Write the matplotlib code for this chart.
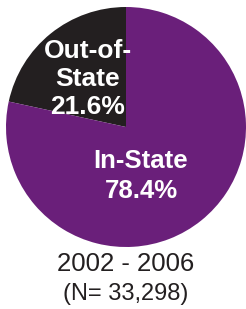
import matplotlib.pyplot as plt

plt.rcParams['font.family'] = ['Liberation Sans', 'DejaVu Sans']

labels = ["Out-of-\nState", "In-State"]
shares = [21.6, 78.4]
colors = ['#231f20', '#6a1f7a']
period = "2002 - 2006"
n_label = "(N= 33,298)"

W, H = 246, 309
fig = plt.figure(figsize=(W / 100, H / 100), dpi=100)
ax = fig.add_axes([0, 0, 1, 1])

ax.pie(shares, colors=colors, startangle=90, counterclock=True,
       center=(126, H - 127), radius=120, frame=True,
       wedgeprops=dict(linewidth=0))
ax.set_xlim(0, W)
ax.set_ylim(0, H)
ax.set_aspect('equal')
ax.axis('off')

ax.text(88, H - 79, f"{labels[0]}\n{shares[0]:.1f}%", color='white',
        fontsize=19, fontweight='bold', ha='center', va='center',
        linespacing=1.2)
ax.text(141, H - 176, f"{labels[1]}\n{shares[1]:.1f}%", color='white',
        fontsize=18.5, fontweight='bold', ha='center', va='center',
        linespacing=1.35)

ax.text(126, H - 264, period, fontsize=18.5, color='#231f20',
        ha='center', va='center')
ax.text(126, H - 294, n_label, fontsize=17, color='#231f20',
        ha='center', va='center')

fig.savefig('out.png', dpi=100)
